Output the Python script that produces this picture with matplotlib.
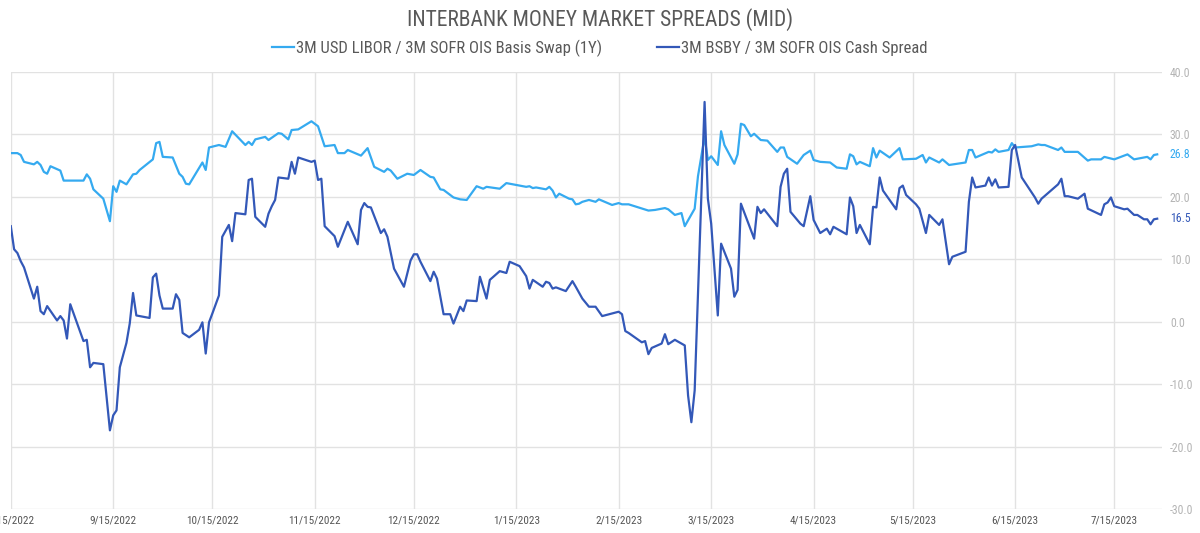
import matplotlib
matplotlib.use("Agg")
import matplotlib.pyplot as plt
import matplotlib.dates as mdates
from matplotlib import font_manager
import pandas as pd

# pick a narrow font if one is installed
installed = {f.name for f in font_manager.fontManager.ttflist}
narrow = [f for f in ["Roboto Condensed", "Liberation Sans Narrow", "DejaVu Sans Condensed", "Roboto"] if f in installed]
plt.rcParams["font.family"] = narrow + ["DejaVu Sans"]

title = "INTERBANK MONEY MARKET SPREADS (MID)"
libor_label = "3M USD LIBOR / 3M SOFR OIS Basis Swap (1Y)"
bsby_label = "3M BSBY / 3M SOFR OIS Cash Spread"

libor_dates = [
    "2022-08-15", "2022-08-17", "2022-08-18", "2022-08-19", "2022-08-22", "2022-08-23", "2022-08-24",
    "2022-08-25", "2022-08-26", "2022-08-27", "2022-08-30", "2022-08-31",
    "2022-09-06", "2022-09-07", "2022-09-08", "2022-09-09", "2022-09-12", "2022-09-14", "2022-09-15",
    "2022-09-16", "2022-09-17", "2022-09-19", "2022-09-21", "2022-09-22", "2022-09-23", "2022-09-27",
    "2022-09-28", "2022-09-29", "2022-09-30",
    "2022-10-03", "2022-10-05", "2022-10-06", "2022-10-07", "2022-10-08", "2022-10-12", "2022-10-13",
    "2022-10-14", "2022-10-17", "2022-10-19", "2022-10-21", "2022-10-25", "2022-10-26", "2022-10-27",
    "2022-10-28", "2022-10-31",
    "2022-11-01", "2022-11-04", "2022-11-05", "2022-11-07", "2022-11-08", "2022-11-10", "2022-11-14",
    "2022-11-16", "2022-11-18", "2022-11-21", "2022-11-22", "2022-11-24", "2022-11-25", "2022-11-29",
    "2022-12-01", "2022-12-03", "2022-12-06", "2022-12-07", "2022-12-08", "2022-12-10", "2022-12-13",
    "2022-12-15", "2022-12-17", "2022-12-20", "2022-12-21", "2022-12-23", "2022-12-24", "2022-12-27",
    "2022-12-29", "2022-12-31",
    "2023-01-03", "2023-01-05", "2023-01-06", "2023-01-10", "2023-01-12", "2023-01-15", "2023-01-18",
    "2023-01-19", "2023-01-20", "2023-01-21", "2023-01-24", "2023-01-25", "2023-01-26", "2023-01-27",
    "2023-01-28", "2023-01-31",
    "2023-02-01", "2023-02-02", "2023-02-03", "2023-02-04", "2023-02-06", "2023-02-08", "2023-02-09",
    "2023-02-13", "2023-02-15", "2023-02-16", "2023-02-18", "2023-02-21", "2023-02-24", "2023-02-26",
    "2023-03-01", "2023-03-02", "2023-03-04", "2023-03-06", "2023-03-07", "2023-03-10", "2023-03-11",
    "2023-03-12", "2023-03-13", "2023-03-14", "2023-03-15", "2023-03-17", "2023-03-18", "2023-03-19",
    "2023-03-22", "2023-03-23", "2023-03-24", "2023-03-25", "2023-03-27", "2023-03-28", "2023-03-30",
    "2023-04-01", "2023-04-04", "2023-04-05", "2023-04-06", "2023-04-07", "2023-04-10", "2023-04-12",
    "2023-04-14", "2023-04-15", "2023-04-17", "2023-04-20", "2023-04-22", "2023-04-25", "2023-04-26",
    "2023-04-27", "2023-04-28", "2023-04-29",
    "2023-05-02", "2023-05-03", "2023-05-04", "2023-05-05", "2023-05-08", "2023-05-11", "2023-05-12",
    "2023-05-16", "2023-05-18", "2023-05-19", "2023-05-20", "2023-05-23", "2023-05-24", "2023-05-26",
    "2023-05-31",
    "2023-06-01", "2023-06-02", "2023-06-03", "2023-06-07", "2023-06-08", "2023-06-09", "2023-06-10",
    "2023-06-13", "2023-06-14", "2023-06-15", "2023-06-20", "2023-06-22", "2023-06-23", "2023-06-24",
    "2023-06-28", "2023-06-29", "2023-06-30",
    "2023-07-04", "2023-07-07", "2023-07-08", "2023-07-11", "2023-07-12", "2023-07-15", "2023-07-19",
    "2023-07-21", "2023-07-25", "2023-07-26", "2023-07-27", "2023-07-28",
]
libor_values = [
    27.0, 27.0, 26.7, 25.6, 25.2, 25.6, 25.1, 24.0, 23.7, 24.9, 24.2, 22.6,
    22.6, 23.6, 22.9, 21.2, 19.7, 16.1, 21.7, 20.8, 22.6, 22.0, 23.6, 23.7, 24.3, 26.0, 28.6, 28.8, 26.4,
    26.3, 23.7, 23.2, 22.1, 22.0, 25.5, 24.3, 27.9, 28.3, 28.0, 30.5, 28.3, 28.8, 28.3, 29.2, 29.6,
    29.1, 30.2, 30.1, 29.2, 30.7, 30.8, 32.1, 31.3, 28.1, 28.3, 27.0, 27.0, 27.5, 26.6,
    27.8, 24.8, 24.0, 24.5, 24.2, 22.9, 23.7, 23.5, 24.3, 23.2, 23.1, 21.2, 21.1, 19.9, 19.6, 19.5,
    21.7, 21.3, 21.6, 21.3, 22.2, 21.9, 21.6, 21.7, 21.4, 21.5, 21.2, 21.6, 21.0, 19.9, 20.5, 19.7,
    19.6, 18.8, 18.9, 19.2, 19.5, 19.2, 19.6, 18.7, 19.0, 18.8, 18.8, 18.3, 17.8, 17.9,
    18.2, 18.0, 17.1, 17.4, 15.3, 18.1, 23.3, 26.4, 29.6, 25.9, 26.5, 25.1, 30.5, 28.3,
    25.3, 26.8, 31.7, 31.5, 29.7, 30.1, 29.1,
    29.0, 27.2, 27.9, 27.9, 26.4, 25.3, 26.7, 27.4, 25.9, 25.6, 25.5, 24.7, 24.5, 26.8, 26.5, 25.2, 25.6,
    24.9, 27.8, 26.3, 27.4, 26.3, 27.8, 26.0, 26.1, 26.7, 25.5, 26.3, 25.5, 26.0, 25.1, 25.5,
    27.5, 27.5, 26.3, 27.2, 27.1, 27.6, 27.2, 27.5, 28.6, 27.9, 28.1, 28.4, 28.3, 28.3, 27.5, 27.9, 27.2,
    27.2, 25.8, 26.0, 26.0, 26.4, 26.0, 26.8, 26.0, 26.4, 26.0, 26.7, 26.8,
]

bsby_dates = [
    "2022-08-15", "2022-08-16", "2022-08-17", "2022-08-18", "2022-08-19", "2022-08-22", "2022-08-23",
    "2022-08-24", "2022-08-25", "2022-08-26", "2022-08-29", "2022-08-30", "2022-08-31",
    "2022-09-01", "2022-09-02", "2022-09-06", "2022-09-07", "2022-09-08", "2022-09-09", "2022-09-12",
    "2022-09-14", "2022-09-15", "2022-09-16", "2022-09-17", "2022-09-19", "2022-09-20", "2022-09-21",
    "2022-09-22", "2022-09-26", "2022-09-27", "2022-09-28", "2022-09-29", "2022-09-30",
    "2022-10-03", "2022-10-04", "2022-10-05", "2022-10-06", "2022-10-08", "2022-10-11", "2022-10-12",
    "2022-10-13", "2022-10-14", "2022-10-15", "2022-10-17", "2022-10-18", "2022-10-20", "2022-10-21",
    "2022-10-22", "2022-10-25", "2022-10-26", "2022-10-27", "2022-10-28", "2022-10-31",
    "2022-11-01", "2022-11-02", "2022-11-03", "2022-11-04", "2022-11-07", "2022-11-08", "2022-11-09",
    "2022-11-10", "2022-11-14", "2022-11-15", "2022-11-16", "2022-11-17", "2022-11-18", "2022-11-21",
    "2022-11-22", "2022-11-25", "2022-11-28", "2022-11-29", "2022-11-30",
    "2022-12-01", "2022-12-02", "2022-12-05", "2022-12-06", "2022-12-07", "2022-12-09", "2022-12-12",
    "2022-12-14", "2022-12-15", "2022-12-16", "2022-12-17", "2022-12-20", "2022-12-21", "2022-12-22",
    "2022-12-24", "2022-12-26", "2022-12-27", "2022-12-29", "2022-12-30", "2022-12-31",
    "2023-01-03", "2023-01-04", "2023-01-06", "2023-01-07", "2023-01-10", "2023-01-12", "2023-01-13",
    "2023-01-16", "2023-01-18", "2023-01-19", "2023-01-20", "2023-01-23", "2023-01-24", "2023-01-25",
    "2023-01-26", "2023-01-27", "2023-01-30",
    "2023-02-01", "2023-02-02", "2023-02-04", "2023-02-06", "2023-02-08", "2023-02-10", "2023-02-15",
    "2023-02-16", "2023-02-17", "2023-02-18", "2023-02-22", "2023-02-23", "2023-02-24", "2023-02-25",
    "2023-02-28",
    "2023-03-01", "2023-03-02", "2023-03-04", "2023-03-07", "2023-03-08", "2023-03-09", "2023-03-10",
    "2023-03-13", "2023-03-14", "2023-03-15", "2023-03-17", "2023-03-18", "2023-03-21", "2023-03-22",
    "2023-03-23", "2023-03-24", "2023-03-28", "2023-03-29", "2023-03-30", "2023-03-31",
    "2023-04-04", "2023-04-05", "2023-04-06", "2023-04-07", "2023-04-08", "2023-04-11", "2023-04-12",
    "2023-04-14", "2023-04-15", "2023-04-17", "2023-04-19", "2023-04-20", "2023-04-21", "2023-04-25",
    "2023-04-26", "2023-04-27", "2023-04-28", "2023-04-29",
    "2023-05-02", "2023-05-03", "2023-05-04", "2023-05-05", "2023-05-06", "2023-05-10", "2023-05-11",
    "2023-05-12", "2023-05-13", "2023-05-16", "2023-05-17", "2023-05-19", "2023-05-20", "2023-05-23",
    "2023-05-24", "2023-05-26", "2023-05-27", "2023-05-31",
    "2023-06-01", "2023-06-02", "2023-06-03", "2023-06-06", "2023-06-07", "2023-06-08", "2023-06-09",
    "2023-06-10", "2023-06-13", "2023-06-14", "2023-06-15", "2023-06-17", "2023-06-21", "2023-06-22",
    "2023-06-23", "2023-06-28", "2023-06-29", "2023-06-30",
    "2023-07-01", "2023-07-04", "2023-07-06", "2023-07-07", "2023-07-11", "2023-07-12", "2023-07-13",
    "2023-07-14", "2023-07-15", "2023-07-18", "2023-07-19", "2023-07-21", "2023-07-22", "2023-07-24",
    "2023-07-25", "2023-07-26", "2023-07-27", "2023-07-28",
]
bsby_values = [
    15.3, 11.6, 11.0, 9.7, 8.7, 3.7, 5.6, 1.7, 1.2, 2.5, 0.2, 0.9, 0.2,
    -2.7, 2.8, -3.1, -2.9, -7.3, -6.6, -6.8, -17.4, -15.0, -14.2, -7.3, -3.4, -0.3, 4.6, 1.0,
    0.6, 7.1, 7.7, 4.2, 2.1,
    2.1, 4.4, 3.5, -1.8, -2.5, -1.3, -0.1, -5.1, -0.1, 1.3, 4.2, 13.6, 15.5, 12.9, 17.4, 17.2,
    22.7, 22.9, 16.8, 15.2,
    17.3, 18.5, 19.5, 23.1, 22.9, 25.6, 23.7, 26.3, 25.6, 25.8, 22.7, 22.9, 15.3, 13.7, 12.0,
    16.0, 12.4, 17.9, 19.0,
    18.4, 18.3, 14.2, 14.8, 13.6, 8.5, 5.6, 9.8, 10.8, 10.8, 9.6, 6.5, 8.0, 6.9, 1.2, 1.2, -0.3,
    2.4, 1.7, 3.4,
    3.3, 7.2, 3.7, 6.7, 8.1, 7.8, 9.6, 8.9, 7.3, 5.3, 6.7, 5.6, 6.4, 6.2, 5.3, 5.5, 4.9,
    6.5, 5.6, 3.7, 2.4, 2.4, 0.9, 1.6, 1.2, -1.5, -1.8, -3.3, -3.1, -5.2, -4.2, -3.5,
    -2.0, -3.6, -2.9, -3.8, -11.8, -16.1, -11.0, 35.2, 19.7, 15.7, 1.0, 12.5, 8.5, 4.0, 5.1, 18.9,
    13.3, 18.4, 17.4, 18.0,
    15.3, 21.6, 23.7, 24.5, 17.6, 15.7, 15.3, 20.1, 16.3, 14.2, 14.9, 14.0, 15.2, 14.0, 19.9, 18.5,
    14.2, 15.5,
    12.4, 18.4, 18.3, 23.1, 21.0, 18.0, 21.4, 21.8, 20.3, 18.8, 18.1, 14.2, 17.1, 15.5, 16.4, 9.2,
    10.4, 11.2,
    19.2, 23.1, 21.5, 21.8, 23.1, 21.8, 22.8, 21.5, 21.6, 27.5, 28.3, 23.1, 19.9, 18.9, 19.7, 22.0,
    22.9, 20.1,
    20.1, 19.7, 20.5, 18.1, 17.1, 18.8, 19.1, 19.9, 18.5, 18.0, 18.1, 17.1, 17.1, 16.4, 16.4, 15.6,
    16.4, 16.5,
]

y_ticks = [-30, -20, -10, 0, 10, 20, 30, 40]
x_ticks = pd.date_range("2022-08-01", "2023-07-01", freq="MS") + pd.Timedelta(days=14)

light = "#35aaf0"
dark = "#3358b8"
grey_text = "#b4b4b4"

fig = plt.figure(figsize=(12, 5.33), dpi=100)
ax = fig.add_axes([0.009, 0.045, 0.959, 0.82])

ax.plot(pd.to_datetime(libor_dates), libor_values, color=light, lw=1.6, label=libor_label)
ax.plot(pd.to_datetime(bsby_dates), bsby_values, color=dark, lw=1.6, label=bsby_label)

ax.set_xlim(pd.Timestamp("2022-08-15"), pd.Timestamp("2023-07-29 08:00"))
ax.set_ylim(-30, 40)
ax.set_yticks(y_ticks)
ax.set_yticklabels([f"{v:.1f}" for v in y_ticks])
ax.yaxis.tick_right()
ax.set_xticks(x_ticks)
ax.xaxis.set_major_formatter(plt.FuncFormatter(
    lambda v, _: (lambda d: f"{d.month}/{d.day}/{d.year}")(mdates.num2date(v))))
ax.tick_params(axis="y", length=0, pad=6, labelsize=8.5, labelcolor=grey_text)
ax.tick_params(axis="x", length=0, pad=5, labelsize=8, labelcolor="#555555")
ax.grid(True, color="#e2e2e2", lw=1)
ax.set_axisbelow(True)
for s in ax.spines.values():
    s.set_visible(False)

# last values next to the axis
ax.annotate(f"{libor_values[-1]:.1f}", xy=(1, libor_values[-1]), xycoords=("axes fraction", "data"),
            xytext=(6, 0), textcoords="offset points", va="center", ha="left", fontsize=8.5, color=light)
ax.annotate(f"{bsby_values[-1]:.1f}", xy=(1, bsby_values[-1]), xycoords=("axes fraction", "data"),
            xytext=(6, 0), textcoords="offset points", va="center", ha="left", fontsize=8.5, color=dark)

fig.text(0.5, 0.963, title, ha="center", va="center", fontsize=15.5, color="#595959")
fig.legend(loc="center", bbox_to_anchor=(0.5, 0.909), ncol=2, frameon=False, fontsize=12,
           handlelength=1.3, handletextpad=0.15, columnspacing=3.3, labelcolor="#595959")

fig.savefig("out.png", dpi=100)
